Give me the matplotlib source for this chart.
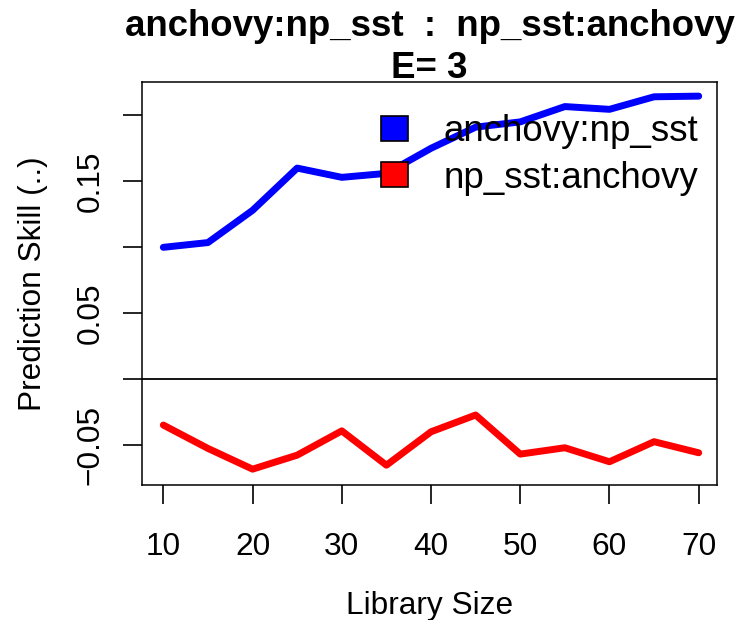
import matplotlib.pyplot as plt
from matplotlib.patches import Patch

plt.rcParams['font.family'] = ['Liberation Sans', 'DejaVu Sans']

# data
lib_size = [10, 15, 20, 25, 30, 35, 40, 45, 50, 55, 60, 65, 70]
anch_np = [0.100, 0.1036, 0.128, 0.160, 0.153, 0.156, 0.175, 0.191, 0.195,
           0.2066, 0.2045, 0.214, 0.2145]
np_anch = [-0.0346, -0.0523, -0.068, -0.0574, -0.039, -0.065, -0.0397,
           -0.027, -0.0566, -0.0518, -0.0624, -0.0472, -0.0556]
labels = ['anchovy:np_sst', 'np_sst:anchovy']
colors = ['blue', 'red']
xticks = [10, 20, 30, 40, 50, 60, 70]
yticks = [-0.05, 0.00, 0.05, 0.10, 0.15, 0.20]
ytick_labels = ['\u22120.05', '', '0.05', '', '0.15', '']

W, H = 737, 620
fig = plt.figure(figsize=(W / 100, H / 100), dpi=100)
ax = fig.add_axes([142 / W, (H - 485) / H, 575 / W, 403 / H])

ax.plot(lib_size, anch_np, color=colors[0], lw=5, solid_capstyle='round')
ax.plot(lib_size, np_anch, color=colors[1], lw=5, solid_capstyle='round')
ax.axhline(0, color='black', lw=1.3)

ax.set_xlim(7.61, 72.05)
ax.set_ylim(-0.080, 0.2252)
ax.set_xticks(xticks)
ax.set_yticks(yticks)
ax.set_yticklabels(ytick_labels, rotation=90, va='center')
ax.tick_params(axis='both', length=14, width=1.2, labelsize=22.8, direction='out')
ax.tick_params(axis='x', pad=20)
ax.tick_params(axis='y', pad=12)
for s in ax.spines.values():
    s.set_linewidth(1.1)

ax.set_xlabel('Library Size', fontsize=22.8, labelpad=21)
ax.set_ylabel('Prediction Skill (..)', fontsize=22.8, labelpad=20)

fig.text(429.5 / W, 1 - 27 / H, 'anchovy:np_sst  :  np_sst:anchovy',
         ha='center', va='center', fontsize=26.4, fontweight='bold')
fig.text(429.5 / W, 1 - 68 / H, 'E= 3',
         ha='center', va='center', fontsize=26.4, fontweight='bold')

handles = [Patch(facecolor=c, edgecolor='black', lw=1.2) for c in colors]
ax.legend(handles, labels, loc='upper right', bbox_to_anchor=(0.967, 0.92),
          frameon=False, fontsize=26.4, handlelength=0.76, handleheight=0.65,
          handletextpad=0.95, labelspacing=0.31, borderaxespad=0, borderpad=0)

fig.savefig('out.png', dpi=100)
